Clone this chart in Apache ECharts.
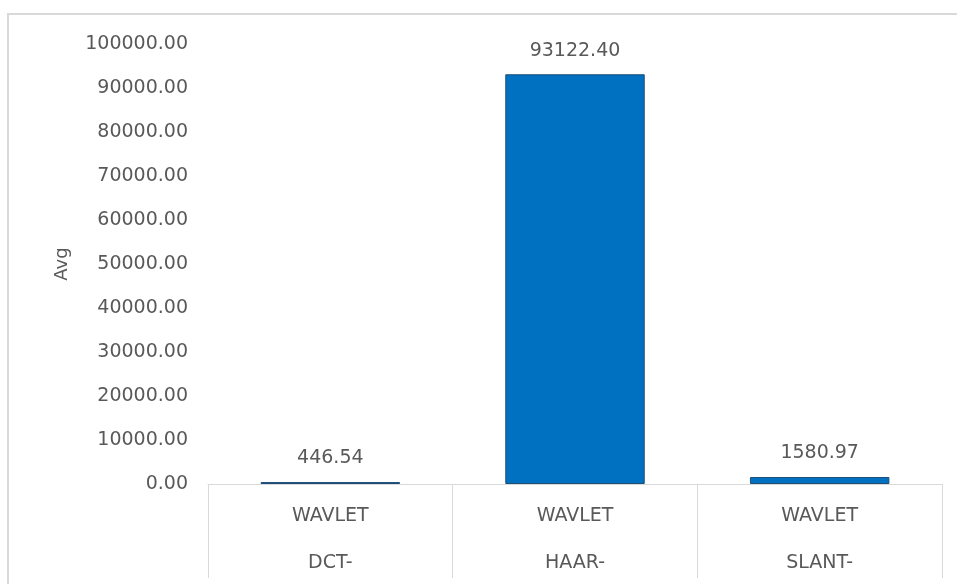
<!DOCTYPE html>
<html>
<head>
<meta charset="utf-8">
<script src="https://cdn.jsdelivr.net/npm/echarts@6/dist/echarts.min.js"></script>
<style>html,body{margin:0;padding:0;background:#fff;}#c{width:957px;height:584px;}</style>
</head>
<body>
<div id="c"></div>
<script>
var groupLabels = ['WAVLET', 'WAVLET', 'WAVLET'];
var categories = ['DCT-', 'HAAR-', 'SLANT-'];
var avgValues = [446.54, 93122.40, 1580.97];
var yTicks = { min: 0, max: 100000, interval: 10000 };

var font = 'DejaVu Sans';
var chart = echarts.init(document.getElementById('c'));
chart.setOption({
  animation: false,
  backgroundColor: '#fff',
  graphic: [{
    type: 'rect', silent: true, z: -1,
    shape: { x: 8, y: 14, width: 1200, height: 800 },
    style: { fill: '#fff', stroke: '#d9d9d9', lineWidth: 2 }
  }],
  grid: { left: 208, right: 15, top: 44, bottom: 100, containLabel: false, outerBoundsMode: 'none' },
  xAxis: {
    type: 'category',
    data: categories.map(function (c, i) { return groupLabels[i] + '\n' + c; }),
    axisLine: { show: true, lineStyle: { color: '#d9d9d9', width: 1 } },
    axisTick: { show: true, length: 94, lineStyle: { color: '#d9d9d9', width: 1 } },
    axisLabel: {
      color: '#595959', fontFamily: font, fontSize: 19, lineHeight: 47, margin: 9,
      interval: 0
    }
  },
  yAxis: {
    type: 'value',
    min: yTicks.min, max: yTicks.max, interval: yTicks.interval,
    name: 'Avg', nameLocation: 'middle', nameGap: 137, nameRotate: 90,
    nameTextStyle: { color: '#595959', fontFamily: font, fontSize: 18 },
    axisLine: { show: false },
    axisTick: { show: false },
    splitLine: { show: false },
    axisLabel: {
      color: '#595959', fontFamily: font, fontSize: 19, margin: 20,
      padding: [4, 0, 0, 0],
      formatter: function (v) { return v.toFixed(2); }
    }
  },
  series: [{
    type: 'bar',
    data: avgValues,
    barWidth: '57%',
    itemStyle: { color: '#0070C0', borderColor: '#1F4E79', borderWidth: 1 },
    label: {
      show: true, position: 'top', distance: 14,
      color: '#595959', fontFamily: font, fontSize: 19,
      formatter: function (p) { return p.value.toFixed(2); }
    }
  }]
});
</script>
</body>
</html>
